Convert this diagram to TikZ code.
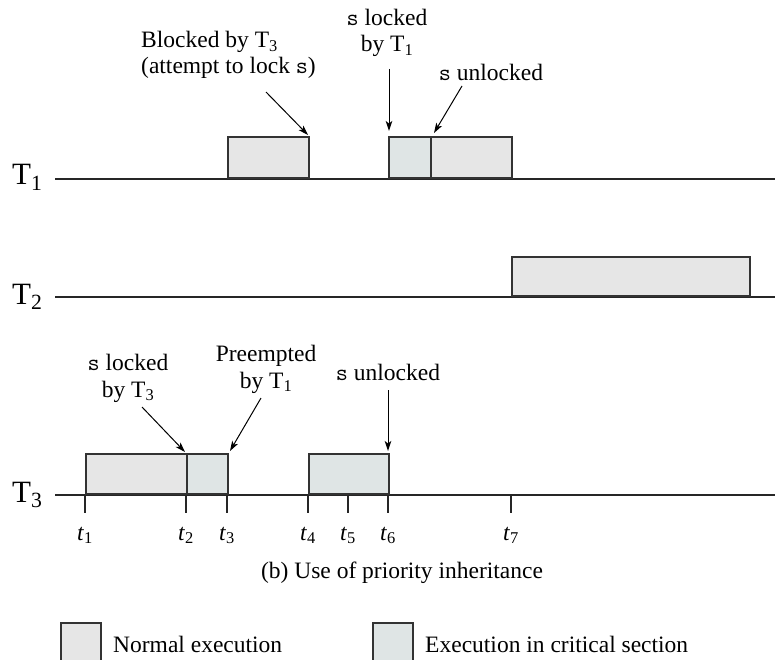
\documentclass[tikz,border=0pt]{standalone}
\usepackage{fontspec}
\setmainfont{Liberation Serif}
\setmonofont{Latin Modern Mono}
\usetikzlibrary{arrows.meta}
\definecolor{normalfill}{HTML}{E6E6E6}
\definecolor{critfill}{HTML}{DFE5E5}
\definecolor{boxline}{HTML}{333333}
\tikzset{
  boxbase/.style={draw=boxline, line width=1.8pt, inner sep=0pt, anchor=south west},
  normalbox/.style={boxbase, fill=normalfill},
  critbox/.style={boxbase, fill=critfill},
  axisline/.style={draw=black!85, line width=1.4pt},
  tickline/.style={draw=black!85, line width=1.4pt},
  lbl/.style={font=\fontsize{23.5}{26.5}\selectfont, inner sep=0pt},
  tname/.style={font=\fontsize{31}{34}\selectfont, inner sep=0pt, anchor=base west},
  pointer/.style={-{Stealth[length=10pt,width=6.5pt,inset=2.5pt]}, line width=1pt},
}
\begin{document}
\begin{tikzpicture}[x=1pt,y=-1pt]
\useasboundingbox (0,0) rectangle (775,660);
\clip (0,0) rectangle (775,660);

% task names
\node[tname] (T1) at (12,185) {T\textsubscript{1}};
\node[tname] (T2) at (12,304) {T\textsubscript{2}};
\node[tname] (T3) at (12,502) {T\textsubscript{3}};

% time lines
\coordinate (l1a) at (55,179);  \coordinate (l1b) at (775,179);
\coordinate (l2a) at (55,297);  \coordinate (l2b) at (775,297);
\coordinate (l3a) at (55,495);  \coordinate (l3b) at (775,495);
\draw[axisline] (l1a) -- (l1b);
\draw[axisline] (l2a) -- (l2b);
\draw[axisline] (l3a) -- (l3b);

% ticks on T3
\foreach \x/\n in {85/1,186/2,227/3,308/4,348/5,388/6,511/7}{
  \coordinate (ta\n) at (\x,495);
  \coordinate (tb\n) at (\x,513);
  \draw[tickline] (ta\n) -- (tb\n);
  \node[lbl, anchor=base] (tl\n) at (\x,540) {\textit{t}\textsubscript{\n}};
}

% T1 boxes
\node[normalbox, minimum width=81pt, minimum height=41pt] (b11) at (227,179) {};
\node[critbox,   minimum width=42pt, minimum height=41pt] (b12) at (388,179) {};
\node[normalbox, minimum width=81pt, minimum height=41pt] (b13) at (430,179) {};

% T2 box
\node[normalbox, minimum width=238pt, minimum height=39pt] (b21) at (511,297) {};

% T3 boxes
\node[normalbox, minimum width=101pt, minimum height=40pt] (b31) at (85,495) {};
\node[critbox,   minimum width=41pt,  minimum height=40pt] (b32) at (186,495) {};
\node[critbox,   minimum width=80pt,  minimum height=40pt] (b33) at (308,495) {};

% T1 annotations (multi-line nodes: base = last line)
\node[lbl, anchor=base west, align=left] (blk) at (141,74)
  {Blocked by T\textsubscript{3}\\(attempt to lock \texttt{s})};
\node[lbl, anchor=base, align=center] (lk1) at (387,52)
  {\texttt{s} locked\\by T\textsubscript{1}};
\node[lbl, anchor=base] (ul1) at (491,81) {\texttt{s} unlocked};

\coordinate (a1s) at (266,92);  \coordinate (a1e) at (308,135);
\coordinate (a2s) at (389,69);  \coordinate (a2e) at (389,131);
\coordinate (a3s) at (462,86);  \coordinate (a3e) at (434,133);
\draw[pointer] (a1s) -- (a1e);
\draw[pointer] (a2s) -- (a2e);
\draw[pointer] (a3s) -- (a3e);

% T3 annotations
\node[lbl, anchor=base, align=center] (lk3) at (128,397)
  {\texttt{s} locked\\by T\textsubscript{3}};
\node[lbl, anchor=base, align=center] (pre) at (266,388)
  {Preempted\\by T\textsubscript{1}};
\node[lbl, anchor=base] (ul3) at (388,380) {\texttt{s} unlocked};

\coordinate (c1s) at (142,407); \coordinate (c1e) at (185,452);
\coordinate (c2s) at (261,398); \coordinate (c2e) at (230,451);
\coordinate (c3s) at (388,390); \coordinate (c3e) at (388,451);
\draw[pointer] (c1s) -- (c1e);
\draw[pointer] (c2s) -- (c2e);
\draw[pointer] (c3s) -- (c3e);

% caption
\node[lbl, anchor=base] (cap) at (402,578) {(b) Use of priority inheritance};

% legend
\node[normalbox, anchor=north west, minimum width=40pt, minimum height=50pt] (lg1) at (60,622) {};
\node[critbox,   anchor=north west, minimum width=40pt, minimum height=50pt] (lg2) at (372,622) {};
\node[lbl, anchor=base west] (lt1) at (113,652) {Normal execution};
\node[lbl, anchor=base west] (lt2) at (425,652) {Execution in critical section};
\end{tikzpicture}
\end{document}
